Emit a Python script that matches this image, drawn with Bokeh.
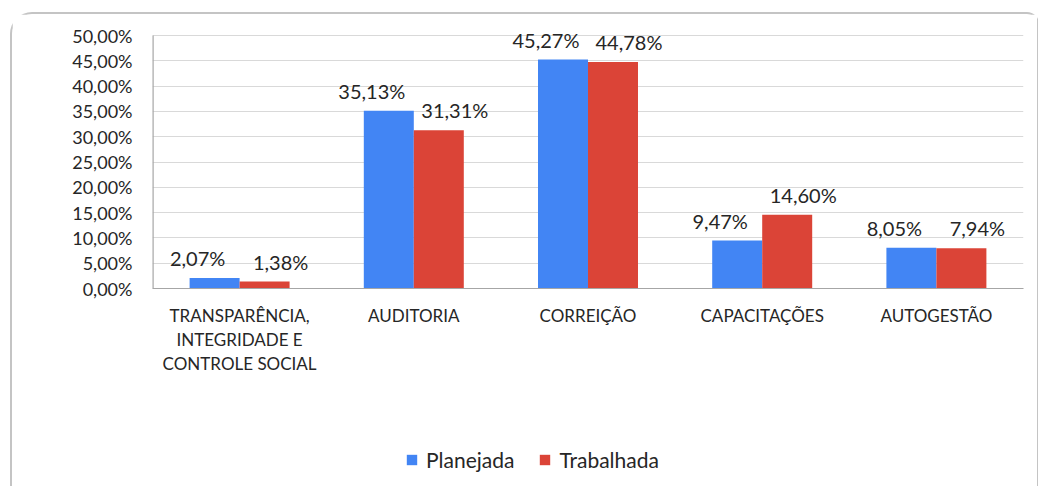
from bokeh.plotting import figure
from bokeh.layouts import column
from bokeh.models import FactorRange, Range1d, FixedTicker, ColumnDataSource, Legend, LegendItem
from bokeh.transform import dodge
from bokeh.embed import file_html
from bokeh.resources import INLINE
from bokeh.core.properties import value

categories = ["TRANSPARÊNCIA,\nINTEGRIDADE E\nCONTROLE SOCIAL", "AUDITORIA", "CORREIÇÃO", "CAPACITAÇÕES", "AUTOGESTÃO"]
planejada = [2.07, 35.13, 45.27, 9.47, 8.05]
trabalhada = [1.38, 31.31, 44.78, 14.60, 7.94]
y_ticks = [0, 5, 10, 15, 20, 25, 30, 35, 40, 45, 50]
y_tick_labels = ["0,00%", "5,00%", "10,00%", "15,00%", "20,00%", "25,00%",
                 "30,00%", "35,00%", "40,00%", "45,00%", "50,00%"]
series_names = ["Planejada", "Trabalhada"]
colors = ["#4285F4", "#DB4437"]

def fmt(v):
    return f"{v:.2f}".replace(".", ",") + "%"

src = ColumnDataSource(dict(
    cat=categories,
    planejada=planejada,
    trabalhada=trabalhada,
    lab_p=[fmt(v) for v in planejada],
    lab_t=[fmt(v) for v in trabalhada],
))

FONT = "Lato"
TXT = "#262626"
AXIS = "#a6a6a6"

# y range a little above the top tick so the labels above the tallest bars are not clipped
y_top = y_ticks[-1] + 2

p = figure(x_range=FactorRange(factors=categories, range_padding=0),
           y_range=Range1d(y_ticks[0], y_top),
           width=1025, height=430, output_backend="svg", toolbar_location=None,
           min_border_left=140, min_border_right=14, min_border_top=11, min_border_bottom=156)

bw = 0.287
r1 = p.vbar(x=dodge("cat", -bw / 2, range=p.x_range), top="planejada", width=bw,
            source=src, fill_color=colors[0], line_color=None)
r2 = p.vbar(x=dodge("cat", bw / 2, range=p.x_range), top="trabalhada", width=bw,
            source=src, fill_color=colors[1], line_color=None)

p.text(x=dodge("cat", -bw / 2, range=p.x_range), y="planejada", text="lab_p", source=src,
       text_align="center", text_baseline="middle", x_offset=-17, y_offset=-20,
       text_font=value(FONT), text_font_size="20px", text_color=TXT)
p.text(x=dodge("cat", bw / 2, range=p.x_range), y="trabalhada", text="lab_t", source=src,
       text_align="center", text_baseline="middle", x_offset=16, y_offset=-20,
       text_font=value(FONT), text_font_size="20px", text_color=TXT)

# value-axis line only from the first to the last tick
axsrc = ColumnDataSource(dict(c=[categories[0]], y0=[y_ticks[0]], y1=[y_ticks[-1]]))
p.segment(x0=dodge("c", -0.5, range=p.x_range), x1=dodge("c", -0.5, range=p.x_range),
          y0="y0", y1="y1", source=axsrc, line_color=AXIS, line_width=2.4)

p.outline_line_color = None
p.xgrid.grid_line_color = None
p.ygrid.grid_line_color = "#d9d9d9"
p.ygrid.grid_line_width = 1.2

p.yaxis.ticker = FixedTicker(ticks=y_ticks)
p.yaxis.major_label_overrides = {t: l for t, l in zip(y_ticks, y_tick_labels)}
p.yaxis.axis_line_color = None
p.yaxis.major_tick_line_color = None
p.yaxis.minor_tick_line_color = None
p.yaxis.major_label_standoff = 14
p.yaxis.major_label_text_font = FONT
p.yaxis.major_label_text_font_size = "18px"
p.yaxis.major_label_text_color = TXT

p.xaxis.axis_line_color = AXIS
p.xaxis.axis_line_width = 1.2
p.xaxis.major_tick_line_color = None
p.xaxis.minor_tick_line_color = None
p.xaxis.major_label_standoff = 10
p.xaxis.major_label_text_font = FONT
p.xaxis.major_label_text_font_size = "17px"
p.xaxis.major_label_text_color = TXT
p.xaxis.major_label_text_line_height = 1.15

# legend strip below the chart (its proxy bars have zero width and lie outside its y range)
lf = figure(width=1025, height=42, x_range=p.x_range, y_range=Range1d(1000, 1001),
            output_backend="svg", toolbar_location=None, min_border=0)
lf.axis.visible = False
lf.grid.grid_line_color = None
lf.outline_line_color = None
l1 = lf.vbar(x="cat", top="planejada", width=0, source=src,
             fill_color=colors[0], line_color=None)
l2 = lf.vbar(x="cat", top="trabalhada", width=0, source=src,
             fill_color=colors[1], line_color=None)
legend = Legend(items=[LegendItem(label=series_names[0], renderers=[l1]),
                       LegendItem(label=series_names[1], renderers=[l2])],
                orientation="horizontal", location=(253, 14),
                glyph_width=13, glyph_height=13, label_standoff=8, spacing=24,
                padding=0, margin=0, border_line_color=None, background_fill_alpha=0,
                label_text_font=FONT, label_text_font_size="21px", label_text_color=TXT)
lf.add_layout(legend)

layout = column(p, lf, spacing=0,
                styles={"margin-left": "10px", "margin-top": "12px",
                        "border-top": "2px solid #c4c4c4", "border-left": "2px solid #c4c4c4",
                        "border-right": "2px solid #c4c4c4",
                        "border-top-left-radius": "22px", "border-top-right-radius": "12px",
                        "box-sizing": "border-box"})

open("out.html", "w").write(file_html(layout, INLINE))
